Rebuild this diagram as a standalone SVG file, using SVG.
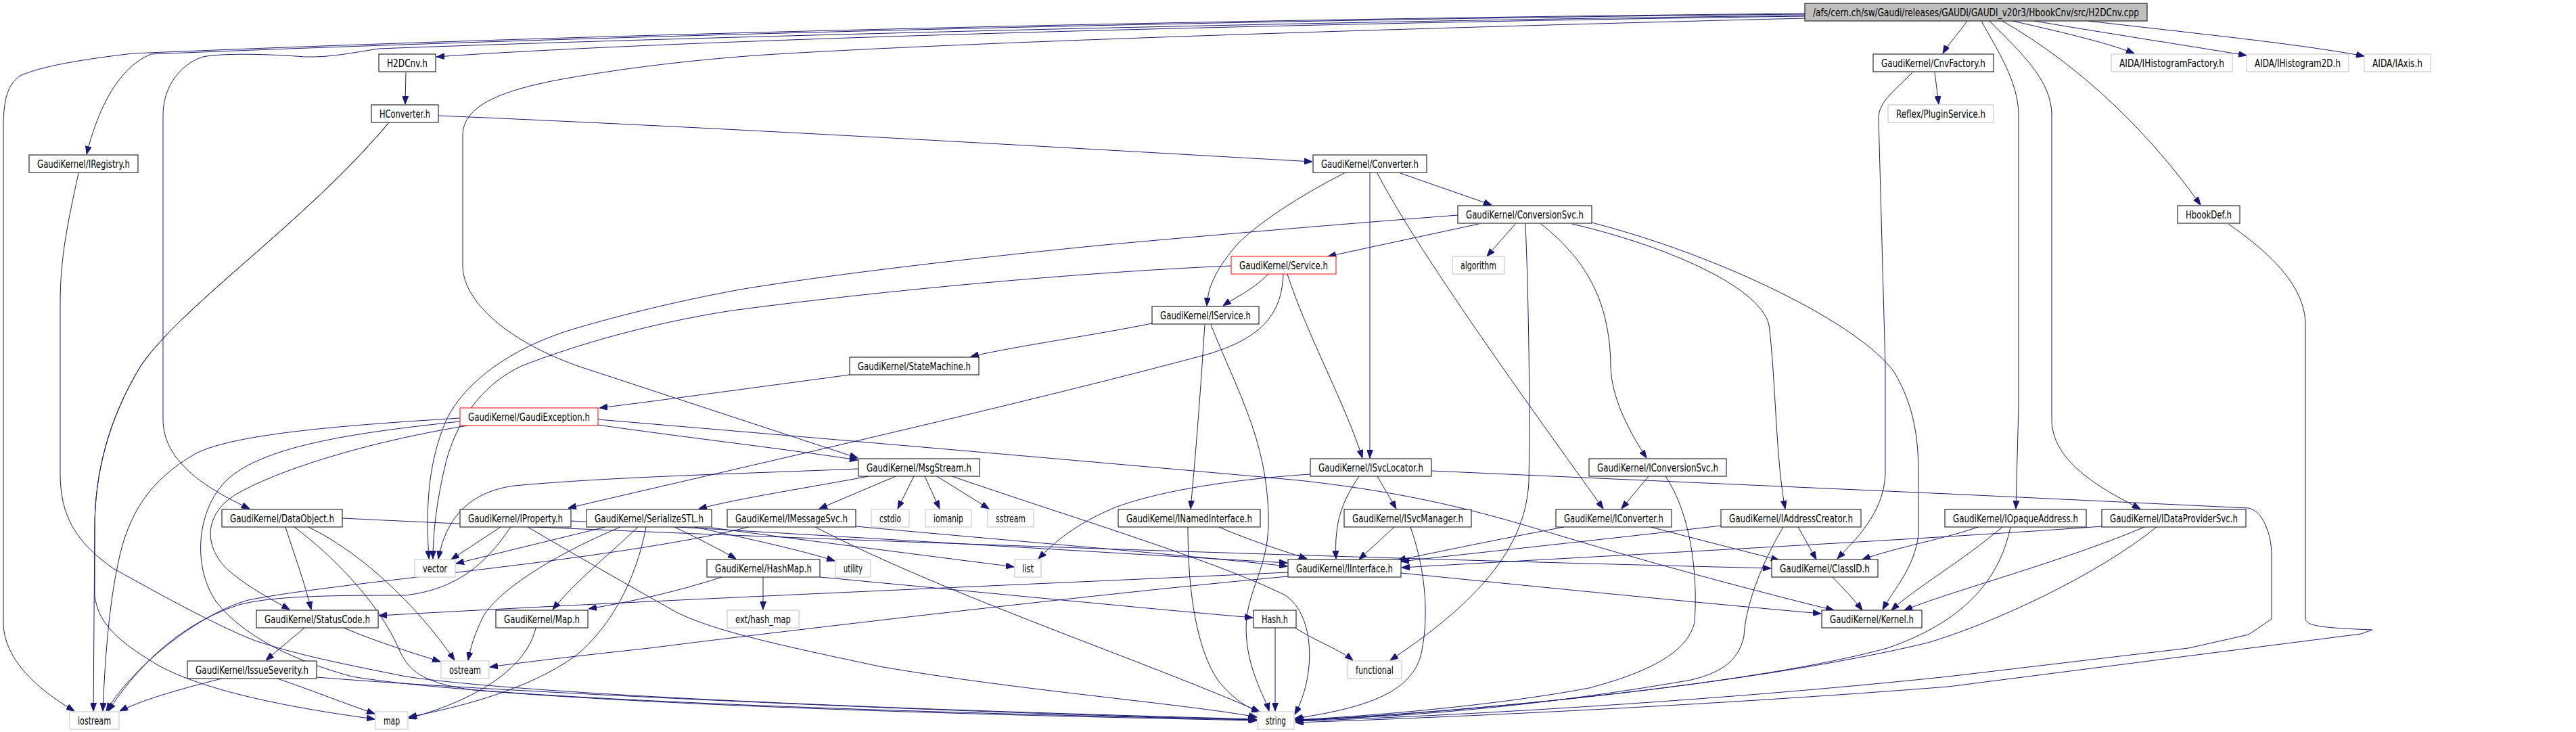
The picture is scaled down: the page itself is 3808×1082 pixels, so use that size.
<svg xmlns="http://www.w3.org/2000/svg" width="3808" height="1082" viewBox="0 0 3808 1082">
<defs>
<style>
.node rect{fill:#ffffff;stroke:#000000;stroke-width:1}
.node.ext rect{stroke:#bfbfbf}
.node.trunc rect{stroke:#ff0000}
.node.main rect{fill:#bfbfbf}
.node text{font-family:'DejaVu Sans','Liberation Sans',sans-serif;font-size:15px;fill:#000000}
#edges path{fill:none;stroke:#191970;stroke-width:1;marker-end:url(#arr)}
</style>
<marker id="arr" viewBox="0 0 12 9" refX="12" refY="4.5" markerWidth="12" markerHeight="9" orient="auto" markerUnits="userSpaceOnUse">
<path d="M0,0 L12,4.5 L0,9 z" fill="#191970" stroke="#191970" stroke-width="1"/>
</marker>
</defs>
<rect x="0" y="0" width="3808" height="1082" fill="#ffffff"/>
<g id="edges">
<path d="M2668,24 C2200,30 1100,52 645,84"/>
<path d="M2668,20 C2000,26 1000,45 196,79 C120,88 60,98 30,112 C10,125 5,150 5,190 L5,920 C5,965 40,1010 110,1051"/>
<path d="M2668,21 C2000,27 1000,48 223,80 C175,100 145,160 128,228"/>
<path d="M2668,23 C2000,30 1000,55 560,72 C520,78 490,85 450,84 C400,80 330,78 300,84 C265,95 241,130 241,170 L241,620 C241,680 300,720 369,752"/>
<path d="M2668,27 C2300,36 1500,58 1131,81 C1000,90 900,105 836,116 C760,130 684,150 684,200 L684,393 C684,440 740,500 854,541 L1268,677"/>
<path d="M2908,31 C2895,50 2880,65 2872,79"/>
<path d="M2929,31 C2950,70 2984,120 2984,170 L2984,600 L2980,752"/>
<path d="M2941,31 C2990,80 3033,120 3033,170 L3033,620 C3033,680 3100,720 3164,752"/>
<path d="M2960,31 C3080,100 3180,200 3253,303"/>
<path d="M2975,31 C3060,50 3120,65 3155,79"/>
<path d="M3007,31 C3150,55 3250,70 3321,82"/>
<path d="M3087,31 C3250,50 3400,65 3495,83"/>
<path d="M2860,107 L2866,154"/>
<path d="M2827,107 C2800,135 2777,150 2777,175 L2787,541 L2787,700 C2785,760 2740,800 2716,826"/>
<path d="M600,107 L599,154"/>
<path d="M648,171 C1100,190 1600,220 1940,239"/>
<path d="M575,181 C450,330 270,450 208,541 C160,620 140,700 140,780 L138,1051"/>
<path d="M575,181 C450,330 270,450 208,541 C160,620 140,700 140,780 L140,880 C145,920 170,945 233,983 C300,1020 420,1045 554,1063"/>
<path d="M116,256 C100,330 89,380 89,450 L89,700 C89,760 110,800 167,840 C230,875 320,925 377,947 C440,968 500,980 600,1000 C700,1015 1000,1040 1857,1063"/>
<path d="M1987,256 C1920,290 1860,330 1830,360 C1800,395 1786,420 1784,452"/>
<path d="M2025,256 L2025,677"/>
<path d="M2036,256 C2100,380 2290,640 2370,752"/>
<path d="M2070,256 L2205,303"/>
<path d="M2186,331 L1963,379"/>
<path d="M2240,331 L2198,379"/>
<path d="M2255,331 C2260,450 2262,600 2260,713 C2255,800 2200,880 2055,976"/>
<path d="M2278,331 C2340,380 2380,440 2381,541 C2382,590 2410,640 2434,677"/>
<path d="M2324,331 C2450,360 2600,420 2615,480 C2625,560 2625,680 2639,752"/>
<path d="M2353,329 C2550,380 2750,480 2800,550 C2830,600 2836,650 2836,700 L2836,790 C2830,840 2800,870 2783,901"/>
<path d="M2155,318 C2000,330 1842,343 1633,362 C1400,385 1200,410 1094,428 C1000,445 900,470 836,490 C760,515 690,560 660,620 C630,690 630,760 634,826"/>
<path d="M1875,405 C1850,430 1825,440 1808,452"/>
<path d="M1903,405 C1930,490 1990,600 2014,677"/>
<path d="M1897,405 C1895,460 1870,500 1780,525 C1500,600 1100,690 840,751"/>
<path d="M1820,393 C1600,402 1300,430 1082,459 C960,478 850,510 771,541 C720,565 680,610 660,680 C645,740 640,790 640,826"/>
<path d="M1703,478 C1620,495 1500,512 1435,527"/>
<path d="M1781,480 C1778,520 1774,600 1760,752"/>
<path d="M1790,480 C1830,580 1872,650 1875,760 C1878,840 1842,870 1842,930 C1843,990 1870,1030 1876,1051"/>
<path d="M1256,554 C1100,575 960,594 886,603"/>
<path d="M680,618 C520,628 350,640 290,670 C220,710 190,760 175,830 C160,900 155,980 152,1051"/>
<path d="M680,623 C520,640 380,660 330,715 C290,760 285,840 320,890 C360,940 430,975 520,1000 C700,1030 1200,1050 1857,1064"/>
<path d="M692,629 C560,650 420,690 350,730 C300,760 300,810 340,845 C370,870 400,885 428,901"/>
<path d="M884,628 C1000,645 1150,662 1268,680"/>
<path d="M884,620 C1300,655 1700,690 1920,710 C2100,730 2200,760 2300,790 C2450,835 2600,875 2711,902"/>
<path d="M1284,704 C1200,720 1100,735 1033,752"/>
<path d="M1324,704 L1211,752"/>
<path d="M1351,704 L1327,752"/>
<path d="M1367,704 L1389,752"/>
<path d="M1385,704 L1462,752"/>
<path d="M1407,704 C1600,770 1800,830 1900,880 C1945,910 1945,1000 1914,1056"/>
<path d="M1269,693 C1100,700 900,705 760,718 C700,726 660,760 648,826"/>
<path d="M2036,704 L2064,752"/>
<path d="M2009,704 C1985,740 1972,770 1975,826"/>
<path d="M1937,701 C1800,710 1700,730 1646,751 C1590,775 1560,800 1535,826"/>
<path d="M2116,696 L2880,730 L3324,751 C3345,755 3358,790 3358,820 L3358,915 L3324,938 L3235,958 L2880,1000 C2500,1040 2100,1060 1915,1066"/>
<path d="M2437,704 L2397,752"/>
<path d="M2462,704 C2500,760 2510,850 2505,920 C2495,960 2450,990 2349,1017 C2200,1045 2000,1060 1915,1064"/>
<path d="M422,779 C435,820 450,860 460,901"/>
<path d="M435,779 C490,820 560,890 590,960 C605,995 630,1010 700,1020 C1000,1045 1500,1058 1858,1065"/>
<path d="M456,779 C540,820 620,900 672,976"/>
<path d="M506,766 C1000,790 1800,820 2618,840"/>
<path d="M740,779 L667,827"/>
<path d="M755,779 C720,830 680,870 600,880 C500,880 400,880 350,895 C260,925 200,990 160,1051"/>
<path d="M780,779 C850,820 920,860 1000,905 C1060,935 1174,958 1300,985 C1500,1020 1750,1040 1858,1060"/>
<path d="M844,770 C1200,790 1600,815 1903,832"/>
<path d="M895,779 L674,833"/>
<path d="M917,779 C820,820 740,870 715,910 C700,940 695,960 692,976"/>
<path d="M943,779 C900,820 850,860 817,901"/>
<path d="M955,779 C940,860 900,930 850,970 C780,1020 680,1045 604,1060"/>
<path d="M997,779 C1030,795 1060,810 1088,826"/>
<path d="M1027,779 C1100,795 1180,812 1234,829"/>
<path d="M1052,780 C1200,800 1400,825 1499,838"/>
<path d="M1107,779 C900,830 500,860 367,887 C300,905 200,980 157,1051"/>
<path d="M1205,779 C1400,880 1700,980 1862,1052"/>
<path d="M1265,778 C1500,800 1750,820 1903,837"/>
<path d="M1802,779 C1850,800 1900,815 1932,826"/>
<path d="M1756,779 C1756,880 1770,960 1800,1005 C1820,1030 1840,1045 1862,1052"/>
<path d="M2061,779 L2009,827"/>
<path d="M2085,779 C2110,850 2112,920 2100,970 C2085,1020 2030,1045 1914,1062"/>
<path d="M2312,779 C2200,800 2130,815 2066,828"/>
<path d="M2440,779 C2520,800 2580,815 2630,828"/>
<path d="M2544,777 C2350,800 2200,815 2071,830"/>
<path d="M2658,779 L2685,827"/>
<path d="M2636,779 C2600,840 2580,900 2578,940 C2570,980 2540,995 2500,1005 C2300,1040 2100,1060 1914,1064"/>
<path d="M2924,779 C2880,795 2800,810 2753,827"/>
<path d="M2960,779 C2900,830 2830,870 2796,902"/>
<path d="M2972,779 C2955,860 2900,920 2790,958 C2600,1010 2200,1050 1915,1065"/>
<path d="M3108,778 C2800,800 2400,820 2072,839"/>
<path d="M3170,779 C3050,830 2880,875 2815,902"/>
<path d="M3188,779 C3100,850 2950,920 2850,950 C2600,1010 2200,1050 1915,1066"/>
<path d="M1128,853 L1128,901"/>
<path d="M1212,853 C1500,880 1700,900 1852,913"/>
<path d="M1067,853 C1000,875 930,890 870,900"/>
<path d="M1885,928 L1885,1051"/>
<path d="M1916,929 C1950,950 1980,960 2000,976"/>
<path d="M2071,847 C2300,870 2500,890 2692,907"/>
<path d="M1904,846 C1500,865 1000,885 560,910"/>
<path d="M1904,852 C1600,880 1100,940 960,958 C850,970 780,978 724,986"/>
<path d="M2709,853 C2725,870 2740,885 2753,902"/>
<path d="M450,928 L393,976"/>
<path d="M508,928 C560,950 610,965 651,978"/>
<path d="M328,1003 C260,1020 210,1035 177,1051"/>
<path d="M410,1003 C460,1020 510,1040 554,1055"/>
<path d="M468,1001 C700,1020 1300,1050 1858,1064"/>
<path d="M792,928 C780,980 720,1030 604,1062"/>
<path d="M3294,331 C3350,370 3408,420 3408,480 L3408,915 C3410,925 3430,928 3507,931 L3490,937 L2880,1015 C2500,1045 2100,1062 1915,1068"/>
</g>
<g id="n_main" class="node main"><rect x="2668" y="5" width="506" height="26"/><text x="2680" y="24" textLength="482" lengthAdjust="spacingAndGlyphs">/afs/cern.ch/sw/Gaudi/releases/GAUDI/GAUDI_v20r3/HbookCnv/src/H2DCnv.cpp</text></g>
<g id="n_H2DCnv" class="node"><rect x="560" y="80" width="84" height="26"/><text x="572" y="99" textLength="60" lengthAdjust="spacingAndGlyphs">H2DCnv.h</text></g>
<g id="n_HConverter" class="node"><rect x="549" y="155" width="99" height="26"/><text x="561" y="174" textLength="75" lengthAdjust="spacingAndGlyphs">HConverter.h</text></g>
<g id="n_IRegistry" class="node"><rect x="43" y="229" width="161" height="26"/><text x="55" y="248" textLength="137" lengthAdjust="spacingAndGlyphs">GaudiKernel/IRegistry.h</text></g>
<g id="n_Converter" class="node"><rect x="1941" y="229" width="168" height="26"/><text x="1953" y="248" textLength="144" lengthAdjust="spacingAndGlyphs">GaudiKernel/Converter.h</text></g>
<g id="n_CnvFactory" class="node"><rect x="2769" y="80" width="178" height="26"/><text x="2781" y="99" textLength="154" lengthAdjust="spacingAndGlyphs">GaudiKernel/CnvFactory.h</text></g>
<g id="n_PluginService" class="node ext"><rect x="2791" y="155" width="156" height="26"/><text x="2803" y="174" textLength="132" lengthAdjust="spacingAndGlyphs">Reflex/PluginService.h</text></g>
<g id="n_IHistogramFactory" class="node ext"><rect x="3121" y="80" width="179" height="26"/><text x="3133" y="99" textLength="155" lengthAdjust="spacingAndGlyphs">AIDA/IHistogramFactory.h</text></g>
<g id="n_IHistogram2D" class="node ext"><rect x="3321" y="80" width="151" height="26"/><text x="3333" y="99" textLength="127" lengthAdjust="spacingAndGlyphs">AIDA/IHistogram2D.h</text></g>
<g id="n_IAxis" class="node ext"><rect x="3495" y="80" width="98" height="26"/><text x="3507" y="99" textLength="74" lengthAdjust="spacingAndGlyphs">AIDA/IAxis.h</text></g>
<g id="n_HbookDef" class="node"><rect x="3219" y="304" width="92" height="26"/><text x="3231" y="323" textLength="68" lengthAdjust="spacingAndGlyphs">HbookDef.h</text></g>
<g id="n_ConversionSvc" class="node"><rect x="2155" y="304" width="198" height="26"/><text x="2167" y="323" textLength="174" lengthAdjust="spacingAndGlyphs">GaudiKernel/ConversionSvc.h</text></g>
<g id="n_Service" class="node trunc"><rect x="1820" y="379" width="155" height="26"/><text x="1832" y="398" textLength="131" lengthAdjust="spacingAndGlyphs">GaudiKernel/Service.h</text></g>
<g id="n_algorithm" class="node ext"><rect x="2147" y="379" width="77" height="26"/><text x="2159" y="398" textLength="53" lengthAdjust="spacingAndGlyphs">algorithm</text></g>
<g id="n_IService" class="node"><rect x="1703" y="453" width="158" height="26"/><text x="1715" y="472" textLength="134" lengthAdjust="spacingAndGlyphs">GaudiKernel/IService.h</text></g>
<g id="n_StateMachine" class="node"><rect x="1256" y="528" width="191" height="26"/><text x="1268" y="547" textLength="167" lengthAdjust="spacingAndGlyphs">GaudiKernel/StateMachine.h</text></g>
<g id="n_GaudiException" class="node trunc"><rect x="680" y="603" width="204" height="26"/><text x="692" y="622" textLength="180" lengthAdjust="spacingAndGlyphs">GaudiKernel/GaudiException.h</text></g>
<g id="n_MsgStream" class="node"><rect x="1269" y="678" width="179" height="26"/><text x="1281" y="697" textLength="155" lengthAdjust="spacingAndGlyphs">GaudiKernel/MsgStream.h</text></g>
<g id="n_ISvcLocator" class="node"><rect x="1937" y="678" width="179" height="26"/><text x="1949" y="697" textLength="155" lengthAdjust="spacingAndGlyphs">GaudiKernel/ISvcLocator.h</text></g>
<g id="n_IConversionSvc" class="node"><rect x="2349" y="678" width="203" height="26"/><text x="2361" y="697" textLength="179" lengthAdjust="spacingAndGlyphs">GaudiKernel/IConversionSvc.h</text></g>
<g id="n_DataObject" class="node"><rect x="328" y="753" width="178" height="26"/><text x="340" y="772" textLength="154" lengthAdjust="spacingAndGlyphs">GaudiKernel/DataObject.h</text></g>
<g id="n_IProperty" class="node"><rect x="680" y="753" width="164" height="26"/><text x="692" y="772" textLength="140" lengthAdjust="spacingAndGlyphs">GaudiKernel/IProperty.h</text></g>
<g id="n_SerializeSTL" class="node"><rect x="867" y="753" width="185" height="26"/><text x="879" y="772" textLength="161" lengthAdjust="spacingAndGlyphs">GaudiKernel/SerializeSTL.h</text></g>
<g id="n_IMessageSvc" class="node"><rect x="1075" y="753" width="190" height="26"/><text x="1087" y="772" textLength="166" lengthAdjust="spacingAndGlyphs">GaudiKernel/IMessageSvc.h</text></g>
<g id="n_cstdio" class="node ext"><rect x="1288" y="753" width="56" height="26"/><text x="1300" y="772" textLength="32" lengthAdjust="spacingAndGlyphs">cstdio</text></g>
<g id="n_iomanip" class="node ext"><rect x="1368" y="753" width="68" height="26"/><text x="1380" y="772" textLength="44" lengthAdjust="spacingAndGlyphs">iomanip</text></g>
<g id="n_sstream" class="node ext"><rect x="1460" y="753" width="68" height="26"/><text x="1472" y="772" textLength="44" lengthAdjust="spacingAndGlyphs">sstream</text></g>
<g id="n_INamedInterface" class="node"><rect x="1653" y="753" width="210" height="26"/><text x="1665" y="772" textLength="186" lengthAdjust="spacingAndGlyphs">GaudiKernel/INamedInterface.h</text></g>
<g id="n_ISvcManager" class="node"><rect x="1987" y="753" width="188" height="26"/><text x="1999" y="772" textLength="164" lengthAdjust="spacingAndGlyphs">GaudiKernel/ISvcManager.h</text></g>
<g id="n_IConverter" class="node"><rect x="2300" y="753" width="171" height="26"/><text x="2312" y="772" textLength="147" lengthAdjust="spacingAndGlyphs">GaudiKernel/IConverter.h</text></g>
<g id="n_IAddressCreator" class="node"><rect x="2544" y="753" width="207" height="26"/><text x="2556" y="772" textLength="183" lengthAdjust="spacingAndGlyphs">GaudiKernel/IAddressCreator.h</text></g>
<g id="n_IOpaqueAddress" class="node"><rect x="2875" y="753" width="209" height="26"/><text x="2887" y="772" textLength="185" lengthAdjust="spacingAndGlyphs">GaudiKernel/IOpaqueAddress.h</text></g>
<g id="n_IDataProviderSvc" class="node"><rect x="3107" y="753" width="213" height="26"/><text x="3119" y="772" textLength="189" lengthAdjust="spacingAndGlyphs">GaudiKernel/IDataProviderSvc.h</text></g>
<g id="n_vector" class="node ext"><rect x="613" y="827" width="60" height="26"/><text x="625" y="846" textLength="36" lengthAdjust="spacingAndGlyphs">vector</text></g>
<g id="n_HashMap" class="node"><rect x="1045" y="827" width="167" height="26"/><text x="1057" y="846" textLength="143" lengthAdjust="spacingAndGlyphs">GaudiKernel/HashMap.h</text></g>
<g id="n_utility" class="node ext"><rect x="1235" y="827" width="52" height="26"/><text x="1247" y="846" textLength="28" lengthAdjust="spacingAndGlyphs">utility</text></g>
<g id="n_list" class="node ext"><rect x="1500" y="827" width="39" height="26"/><text x="1511" y="846" textLength="17" lengthAdjust="spacingAndGlyphs">list</text></g>
<g id="n_IInterface" class="node"><rect x="1904" y="827" width="167" height="26"/><text x="1916" y="846" textLength="143" lengthAdjust="spacingAndGlyphs">GaudiKernel/IInterface.h</text></g>
<g id="n_ClassID" class="node"><rect x="2619" y="827" width="157" height="26"/><text x="2631" y="846" textLength="133" lengthAdjust="spacingAndGlyphs">GaudiKernel/ClassID.h</text></g>
<g id="n_StatusCode" class="node"><rect x="379" y="902" width="180" height="26"/><text x="391" y="921" textLength="156" lengthAdjust="spacingAndGlyphs">GaudiKernel/StatusCode.h</text></g>
<g id="n_Map" class="node"><rect x="733" y="902" width="136" height="26"/><text x="745" y="921" textLength="112" lengthAdjust="spacingAndGlyphs">GaudiKernel/Map.h</text></g>
<g id="n_ext_hash_map" class="node ext"><rect x="1075" y="902" width="106" height="26"/><text x="1087" y="921" textLength="82" lengthAdjust="spacingAndGlyphs">ext/hash_map</text></g>
<g id="n_Hash" class="node"><rect x="1853" y="902" width="63" height="26"/><text x="1865" y="921" textLength="39" lengthAdjust="spacingAndGlyphs">Hash.h</text></g>
<g id="n_Kernel" class="node"><rect x="2693" y="902" width="148" height="26"/><text x="2705" y="921" textLength="124" lengthAdjust="spacingAndGlyphs">GaudiKernel/Kernel.h</text></g>
<g id="n_IssueSeverity" class="node"><rect x="277" y="977" width="191" height="26"/><text x="289" y="996" textLength="167" lengthAdjust="spacingAndGlyphs">GaudiKernel/IssueSeverity.h</text></g>
<g id="n_ostream" class="node ext"><rect x="652" y="977" width="71" height="26"/><text x="664" y="996" textLength="47" lengthAdjust="spacingAndGlyphs">ostream</text></g>
<g id="n_functional" class="node ext"><rect x="1992" y="977" width="80" height="26"/><text x="2004" y="996" textLength="56" lengthAdjust="spacingAndGlyphs">functional</text></g>
<g id="n_iostream" class="node ext"><rect x="103" y="1052" width="73" height="26"/><text x="115" y="1071" textLength="49" lengthAdjust="spacingAndGlyphs">iostream</text></g>
<g id="n_map" class="node ext"><rect x="555" y="1052" width="48" height="26"/><text x="567" y="1071" textLength="24" lengthAdjust="spacingAndGlyphs">map</text></g>
<g id="n_string" class="node ext"><rect x="1859" y="1052" width="54" height="26"/><text x="1871" y="1071" textLength="30" lengthAdjust="spacingAndGlyphs">string</text></g>
</svg>
